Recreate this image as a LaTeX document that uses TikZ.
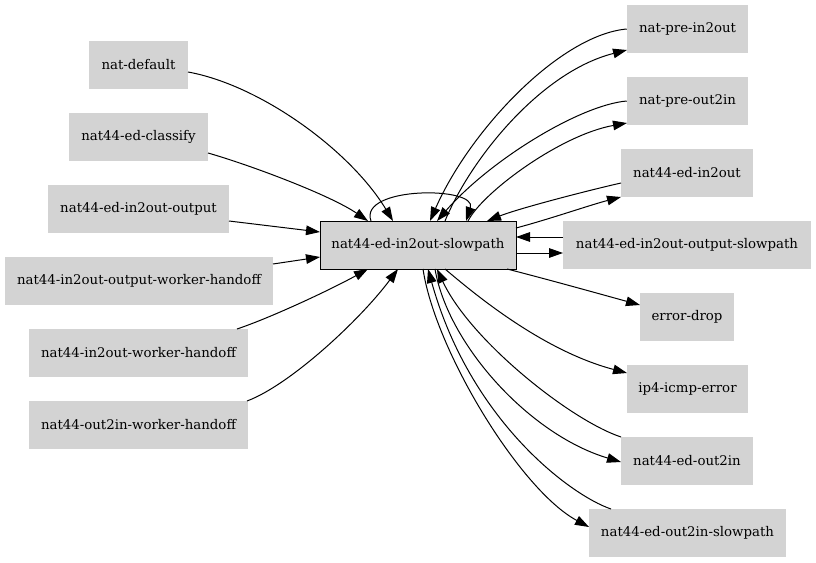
\documentclass[tikz,border=0pt]{standalone}
\usepackage{fontspec}
\setmainfont{DejaVu Serif}
\usetikzlibrary{arrows.meta,calc}
\definecolor{nodegray}{RGB}{211,211,211}
\begin{document}
\begin{tikzpicture}[x=0.75pt,y=-0.75pt,
  box/.style={fill=nodegray,inner sep=0pt,minimum height=36pt,font=\fontsize{10pt}{12pt}\selectfont},
  mainbox/.style={box,draw=black,line width=0.7pt},
  e/.style={-{Triangle[length=10.5pt,width=7.2pt]},line width=0.75pt}]
\useasboundingbox (0,0) rectangle (816,563);
% left column
\node[box,minimum width=74.25pt]  (nd)   at (138.5,65)  {nat-default};
\node[box,minimum width=104.25pt] (cls)  at (138.5,137) {nat44-ed-classify};
\node[box,minimum width=135.75pt] (io)   at (138.5,209) {nat44-ed-in2out-output};
\node[box,minimum width=201pt]    (iowh) at (139,281)   {nat44-in2out-output-worker-handoff};
\node[box,minimum width=164.25pt] (iwh)  at (138.5,353) {nat44-in2out-worker-handoff};
\node[box,minimum width=164.25pt] (owh)  at (138.5,425) {nat44-out2in-worker-handoff};
% centre
\node[mainbox,minimum width=147pt] (sp) at (418,245) {nat44-ed-in2out-slowpath};
% right column
\node[box,minimum width=90.75pt]  (npi)  at (687.5,29)  {nat-pre-in2out};
\node[box,minimum width=90.75pt]  (npo)  at (687.5,101) {nat-pre-out2in};
\node[box,minimum width=99pt]     (nei)  at (687,173)   {nat44-ed-in2out};
\node[box,minimum width=186pt]    (osp)  at (687,245)   {nat44-ed-in2out-output-slowpath};
\node[box,minimum width=70.5pt]   (ed)   at (687,317)   {error-drop};
\node[box,minimum width=90.75pt]  (icmp) at (687.5,389) {ip4-icmp-error};
\node[box,minimum width=99pt]     (no)   at (687,461)   {nat44-ed-out2in};
\node[box,minimum width=147.75pt] (nos)  at (687.5,533) {nat44-ed-out2in-slowpath};
% left edges
\draw[e] ($(nd)+(49.5,7)$) .. controls (260,85) and (350,150) .. ($(sp)+(-25,-24)$);
\draw[e] ($(cls)+(69.5,16)$) .. controls (250,165) and (330,195) .. ($(sp)+(-50,-24)$);
\draw[e] ($(io)+(90.5,12)$) -- ($(sp)+(-98,-13)$);
\draw[e] ($(iowh)+(134,-17)$) -- ($(sp)+(-98,12)$);
\draw[e] ($(iwh)+(98.5,-24)$) .. controls (270,318) and (330,290) .. ($(sp)+(-50,24)$);
\draw[e] ($(owh)+(108.5,-24)$) .. controls (290,385) and (360,320) .. ($(sp)+(-20,24)$);
% self loop
\draw[e] ($(sp)+(-47,-24)$) .. controls (358,186) and (478,186) .. ($(sp)+(48,-24)$);
% right upper edges
\draw[e] (npi.west) .. controls (560,35) and (470,130) .. ($(sp)+(12,-24)$);
\draw[e] ($(sp)+(27,-24)$) .. controls (470,160) and (540,72) .. ($(npi)+(-60.5,21)$);
\draw[e] (npo.west) .. controls (580,105) and (490,160) .. ($(sp)+(19,-24)$);
\draw[e] ($(sp)+(50,-24)$) .. controls (482,193) and (560,135) .. ($(npo)+(-60.5,22)$);
\draw[e] ($(nei)+(-66,10)$) .. controls (590,190) and (520,208) .. ($(sp)+(69,-24)$);
\draw[e] ($(sp)+(98,-17)$) .. controls (550,219) and (590,205) .. ($(nei)+(-66,24)$);
\draw[e] ($(osp)+(-124,-8)$) -- ($(sp)+(98,-8)$);
\draw[e] ($(sp)+(98,8)$) -- ($(osp)+(-124,8)$);
% right lower edges
\draw[e] ($(sp)+(89,24)$) .. controls (550,280) and (600,294) .. ($(ed)+(-47,-12)$);
\draw[e] ($(sp)+(27,24)$) .. controls (470,290) and (540,350) .. ($(icmp)+(-60.5,-16)$);
\draw[e] ($(no)+(-66,-24)$) .. controls (570,420) and (470,340) .. ($(sp)+(19,24)$);
\draw[e] ($(sp)+(17,24)$) .. controls (448,345) and (530,435) .. ($(no)+(-66,1)$);
\draw[e] ($(nos)+(-76.5,-24)$) .. controls (570,495) and (470,420) .. ($(sp)+(10,24)$);
\draw[e] ($(sp)+(5,24)$) .. controls (435,350) and (520,490) .. ($(nos)+(-98.5,-6)$);
\end{tikzpicture}
\end{document}
